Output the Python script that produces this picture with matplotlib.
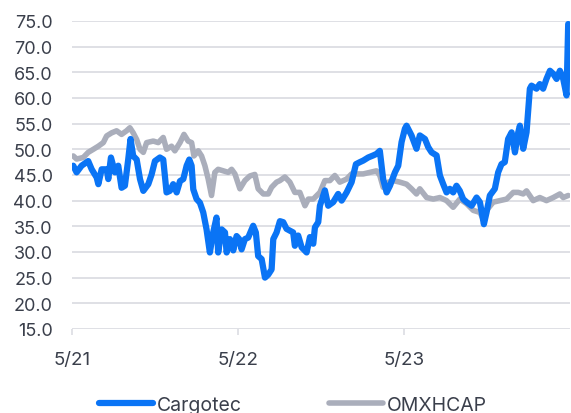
import matplotlib
matplotlib.use("Agg")
import matplotlib.pyplot as plt

# time in years since May 2021
cargotec_t = [0.008, 0.028, 0.058, 0.098, 0.119, 0.149, 0.159, 0.179, 0.209, 0.219,
              0.235, 0.259, 0.279, 0.299, 0.319, 0.339, 0.353, 0.369, 0.390, 0.410,
              0.430, 0.460, 0.480, 0.500, 0.530, 0.550, 0.570, 0.590, 0.610, 0.631,
              0.651, 0.671, 0.691, 0.707, 0.721, 0.731, 0.751, 0.771, 0.791, 0.811,
              0.831, 0.851, 0.871, 0.881, 0.902, 0.922, 0.932, 0.952, 0.972, 0.992,
              1.008, 1.022, 1.042, 1.062, 1.092, 1.108, 1.122, 1.143, 1.163, 1.183,
              1.203, 1.213, 1.233, 1.253, 1.273, 1.293, 1.333, 1.343, 1.363, 1.384,
              1.414, 1.434, 1.454, 1.464, 1.484, 1.494, 1.524, 1.544, 1.574, 1.604,
              1.625, 1.655, 1.685, 1.711, 1.735, 1.755, 1.785, 1.815, 1.835, 1.855,
              1.875, 1.896, 1.916, 1.946, 1.966, 1.986, 2.006, 2.016, 2.046, 2.076,
              2.096, 2.127, 2.147, 2.167, 2.197, 2.217, 2.237, 2.257, 2.277, 2.297,
              2.317, 2.337, 2.357, 2.378, 2.408, 2.438, 2.458, 2.482, 2.498, 2.518,
              2.548, 2.568, 2.588, 2.608, 2.628, 2.649, 2.669, 2.689, 2.699, 2.719,
              2.739, 2.759, 2.769, 2.799, 2.819, 2.839, 2.859, 2.880, 2.900, 2.920,
              2.940, 2.960, 2.980, 2.990]
cargotec = [46.8, 45.5, 46.8, 47.7, 46.1, 44.5, 43.2, 46.1, 46.1, 44.2,
            48.4, 45.5, 46.8, 42.5, 42.9, 48.0, 52.0, 48.7, 48.0, 44.2,
            41.9, 43.2, 45.1, 47.7, 48.4, 48.0, 41.6, 41.9, 43.2, 41.6,
            43.8, 44.2, 46.8, 48.0, 46.8, 42.2, 40.3, 39.6, 37.7, 34.4,
            29.9, 33.8, 36.7, 29.9, 34.4, 33.8, 29.9, 32.5, 30.3, 33.1,
            32.5, 30.5, 32.5, 32.8, 35.1, 33.8, 29.2, 28.6, 25.0, 25.6,
            26.6, 32.5, 33.8, 36.0, 35.8, 34.5, 33.8, 31.2, 33.2, 30.9,
            29.9, 32.9, 31.6, 34.8, 35.8, 39.0, 42.0, 39.0, 39.7, 41.3,
            40.0, 41.6, 43.6, 47.1, 47.5, 47.8, 48.4, 48.8, 49.1, 49.7,
            44.2, 41.6, 42.9, 45.5, 46.8, 51.4, 54.0, 54.6, 52.7, 50.1,
            52.7, 52.0, 50.4, 49.4, 48.8, 44.9, 43.2, 41.6, 42.3, 41.6,
            42.9, 41.9, 40.3, 39.7, 39.0, 40.6, 39.7, 35.4, 37.7, 41.0,
            42.3, 45.5, 47.1, 47.5, 52.0, 53.3, 49.4, 53.3, 54.6, 50.1,
            53.3, 61.8, 62.4, 61.8, 62.7, 61.8, 63.7, 65.3, 64.7, 63.7,
            65.3, 63.7, 60.5, 74.4]

omx_t = [0.008, 0.028, 0.068, 0.098, 0.129, 0.159, 0.189, 0.209, 0.239, 0.269,
         0.299, 0.329, 0.349, 0.369, 0.390, 0.410, 0.430, 0.450, 0.490, 0.520,
         0.550, 0.570, 0.600, 0.620, 0.651, 0.675, 0.700, 0.721, 0.735, 0.761,
         0.781, 0.801, 0.821, 0.841, 0.861, 0.881, 0.912, 0.942, 0.962, 0.982,
         1.012, 1.042, 1.072, 1.102, 1.122, 1.153, 1.183, 1.203, 1.233, 1.253,
         1.283, 1.313, 1.343, 1.373, 1.404, 1.424, 1.454, 1.494, 1.524, 1.554,
         1.584, 1.614, 1.655, 1.685, 1.715, 1.755, 1.795, 1.835, 1.855, 1.875,
         1.906, 1.936, 1.976, 2.016, 2.046, 2.076, 2.096, 2.137, 2.177, 2.217,
         2.257, 2.297, 2.337, 2.378, 2.418, 2.458, 2.478, 2.498, 2.538, 2.578,
         2.619, 2.659, 2.689, 2.719, 2.739, 2.779, 2.819, 2.859, 2.900, 2.940,
         2.960, 2.990]
omxhcap = [48.7, 48.1, 48.4, 49.4, 50.0, 50.6, 51.3, 52.6, 53.2, 53.6,
           52.9, 53.6, 54.2, 53.2, 51.9, 50.0, 49.4, 51.3, 51.6, 51.3,
           52.3, 50.0, 50.6, 49.7, 51.3, 52.9, 51.6, 51.3, 48.7, 49.7,
           48.7, 46.8, 44.2, 41.0, 45.5, 46.1, 45.8, 45.5, 46.1, 45.2,
           42.3, 43.9, 44.8, 45.1, 42.3, 41.3, 41.3, 42.6, 43.6, 43.9,
           44.6, 43.6, 41.6, 41.6, 39.0, 40.3, 40.3, 41.6, 43.9, 43.9,
           44.9, 43.6, 44.2, 45.2, 45.2, 45.2, 45.5, 45.8, 44.9, 42.6,
           43.6, 43.9, 43.6, 43.2, 42.3, 41.3, 42.3, 40.6, 40.3, 40.6,
           40.0, 38.7, 40.3, 39.4, 38.1, 37.7, 36.4, 38.1, 39.7, 40.0,
           40.3, 41.6, 41.6, 41.3, 41.9, 40.0, 40.6, 40.0, 40.6, 41.3,
           40.6, 41.0]

x_ticks = [0, 1, 2]
x_labels = ["5/21", "5/22", "5/23"]
y_ticks = [15, 20, 25, 30, 35, 40, 45, 50, 55, 60, 65, 70, 75]

BLUE = "#0a74f5"
GRAY = "#aaaebb"
TEXT = "#3a3f4b"
GRID = "#dcdde3"

plt.rcParams["font.family"] = ["Inter", "DejaVu Sans"]

fig = plt.figure(figsize=(5.71, 4.14), dpi=100)
ax = fig.add_axes([0.126, 0.203, 0.872, 0.744])

ax.plot(omx_t, omxhcap, color=GRAY, linewidth=4.0, label="OMXHCAP",
        solid_joinstyle="round", solid_capstyle="round", zorder=2)
ax.plot(cargotec_t, cargotec, color=BLUE, linewidth=4.5, label="Cargotec",
        solid_joinstyle="round", solid_capstyle="round", zorder=3)

ax.set_xlim(0, 3.0)
ax.set_ylim(15, 75)
ax.set_yticks(y_ticks)
ax.set_yticklabels([f"{v:.1f}" for v in y_ticks])
ax.set_xticks(x_ticks)
ax.set_xticklabels(x_labels)

ax.grid(axis="y", color=GRID, linewidth=1.3)
ax.set_axisbelow(True)
for side in ["left", "right", "top", "bottom"]:
    ax.spines[side].set_visible(False)

ax.tick_params(axis="y", length=0, pad=14, labelsize=13, labelcolor=TEXT)
ax.tick_params(axis="x", length=4, width=1.2, color=GRID, pad=12,
               labelsize=13.5, labelcolor=TEXT)

handles, labels = ax.get_legend_handles_labels()
fig.legend(handles[::-1], labels[::-1], ncol=2, loc="center",
           bbox_to_anchor=(0.513, 0.02), frameon=False, fontsize=14,
           labelcolor=TEXT, handlelength=2.75, handletextpad=0.2,
           columnspacing=4.5)

fig.savefig("out.png", dpi=100)
